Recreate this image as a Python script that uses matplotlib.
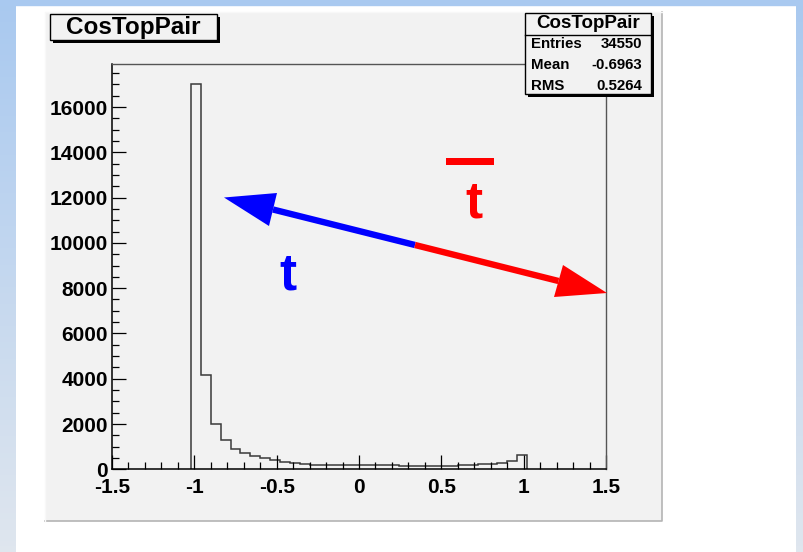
import numpy as np
import matplotlib
matplotlib.use('Agg')
import matplotlib.pyplot as plt
from matplotlib.patches import Rectangle, Polygon

plt.rcParams['font.family'] = ['Liberation Sans', 'DejaVu Sans']
plt.rcParams['font.weight'] = 'bold'

## Histogram data (34 bins from -1.02 to 1.02)
bin_lo, bin_hi, n_bins = -1.02, 1.02, 34
counts = [17000, 4150, 2000, 1290, 900, 720, 580, 480, 390, 310,
          270, 230, 210, 210, 190, 190, 175, 180, 190, 170,
          170, 165, 165, 160, 160, 165, 165, 170, 190, 220,
          255, 290, 360, 610]
hist_name = 'CosTopPair'
stat_names = ['Entries', 'Mean', 'RMS']
stat_values = ['34550', '-0.6963', '0.5264']

W, H = 804, 552
fig = plt.figure(figsize=(W / 100, H / 100), dpi=100)

## Slide background (pixel coordinates)
bg = fig.add_axes([0, 0, 1, 1], zorder=-1)
bg.set_xlim(0, W)
bg.set_ylim(H, 0)
bg.axis('off')
bg.add_patch(Rectangle((0, 0), W, H, color='white'))
grad = np.linspace(0, 1, 100).reshape(-1, 1)
blue_cmap = matplotlib.colors.LinearSegmentedColormap.from_list('sl', ['#a9c9f0', '#dfe6ee'])
bg.imshow(grad, cmap=blue_cmap, extent=(0, 16, H, 0), aspect='auto', zorder=1)
bg.imshow(grad, cmap=blue_cmap, extent=(796, W, H, 0), aspect='auto', zorder=1)
bg.add_patch(Rectangle((0, 0), W, 5, color='#a9c9f0', zorder=2))
# ROOT canvas
bg.add_patch(Rectangle((45, 12), 617, 509, facecolor='#f2f2f2', edgecolor='none', zorder=3))
bg.plot([662, 662, 45], [12, 521, 521], color='#b4b4b4', lw=1.2, zorder=4)
bg.plot([45, 45, 662], [521, 12, 12], color='#f8f8f8', lw=1, zorder=4)

## Main histogram frame
ax = fig.add_axes([112 / W, 1 - 469.3 / H, 494 / W, 405.3 / H])
ax.set_facecolor('none')
edges = np.linspace(bin_lo, bin_hi, n_bins + 1)
ax.stairs(counts, edges, baseline=0, color='#3a3a3a', lw=1.1)
ax.set_xlim(-1.5, 1.5)
ax.set_ylim(0, 17900)
ax.set_xticks(np.arange(-1.5, 1.51, 0.5))
ax.set_xticklabels(['-1.5', '-1', '-0.5', '0', '0.5', '1', '1.5'])
ax.set_xticks(np.arange(-1.5, 1.51, 0.1), minor=True)
ax.set_yticks(np.arange(0, 17000, 2000))
ax.set_yticks(np.arange(0, 17900, 500), minor=True)
ax.tick_params(which='both', direction='in', top=False, right=False,
               labelsize=15, colors='black', width=0.9)
ax.tick_params(which='major', length=10)
ax.tick_params(which='minor', length=5)
ax.tick_params(axis='x', pad=6)
ax.tick_params(axis='y', pad=3)
for lbl in ax.get_xticklabels() + ax.get_yticklabels():
    lbl.set_fontweight('bold')
for s in ['left', 'bottom']:
    ax.spines[s].set_color('black')
    ax.spines[s].set_linewidth(1.1)
for s in ['top', 'right']:
    ax.spines[s].set_color('#555555')
    ax.spines[s].set_linewidth(1.0)

## Overlay: title box, stats box, arrows
ov = fig.add_axes([0, 0, 1, 1], zorder=10)
ov.set_xlim(0, W)
ov.set_ylim(H, 0)
ov.axis('off')
ov.patch.set_alpha(0)

# title box
ov.add_patch(Rectangle((53, 17), 167, 26, facecolor='black', edgecolor='none'))
ov.add_patch(Rectangle((50, 14), 167, 26, facecolor='#f2f2f2', edgecolor='black', lw=1))
ov.text(133.5, 27.5, hist_name, ha='center', va='center', fontsize=17.5, fontweight='bold')

# stats box
ov.add_patch(Rectangle((528, 16), 126, 81, facecolor='black', edgecolor='none'))
ov.add_patch(Rectangle((525, 13), 126, 81, facecolor='#f2f2f2', edgecolor='black', lw=1))
ov.plot([525, 651], [34.5, 34.5], color='black', lw=1)
ov.text(588, 23.5, hist_name, ha='center', va='center', fontsize=13.5, fontweight='bold')
for i, (nm, val) in enumerate(zip(stat_names, stat_values)):
    yy = 44 + 21 * i
    ov.text(531, yy, nm, ha='left', va='center', fontsize=10.8, fontweight='bold')
    ov.text(642, yy, val, ha='right', va='center', fontsize=10.8, fontweight='bold')

# arrows
mid = (415, 245)
blue_tip, blue_c1, blue_c2 = (224, 197.5), (277, 193), (269, 226)
red_tip, red_c1, red_c2 = (607, 293), (563, 265), (554, 297)
bb = ((blue_c1[0] + blue_c2[0]) / 2, (blue_c1[1] + blue_c2[1]) / 2)
rb = ((red_c1[0] + red_c2[0]) / 2, (red_c1[1] + red_c2[1]) / 2)
ov.plot([mid[0], bb[0]], [mid[1], bb[1]], color='blue', lw=4.6, solid_capstyle='butt')
ov.plot([mid[0], rb[0]], [mid[1], rb[1]], color='red', lw=4.6, solid_capstyle='butt')
ov.add_patch(Polygon([blue_tip, blue_c1, blue_c2], closed=True, color='blue', lw=0))
ov.add_patch(Polygon([red_tip, red_c1, red_c2], closed=True, color='red', lw=0))

ov.text(288, 290, 't', color='blue', ha='center', va='baseline', fontsize=37, fontweight='bold')
ov.text(474, 217, 't', color='red', ha='center', va='baseline', fontsize=37, fontweight='bold')
ov.add_patch(Rectangle((446, 158), 48, 7, color='red', lw=0))

fig.savefig('out.png', dpi=100)
